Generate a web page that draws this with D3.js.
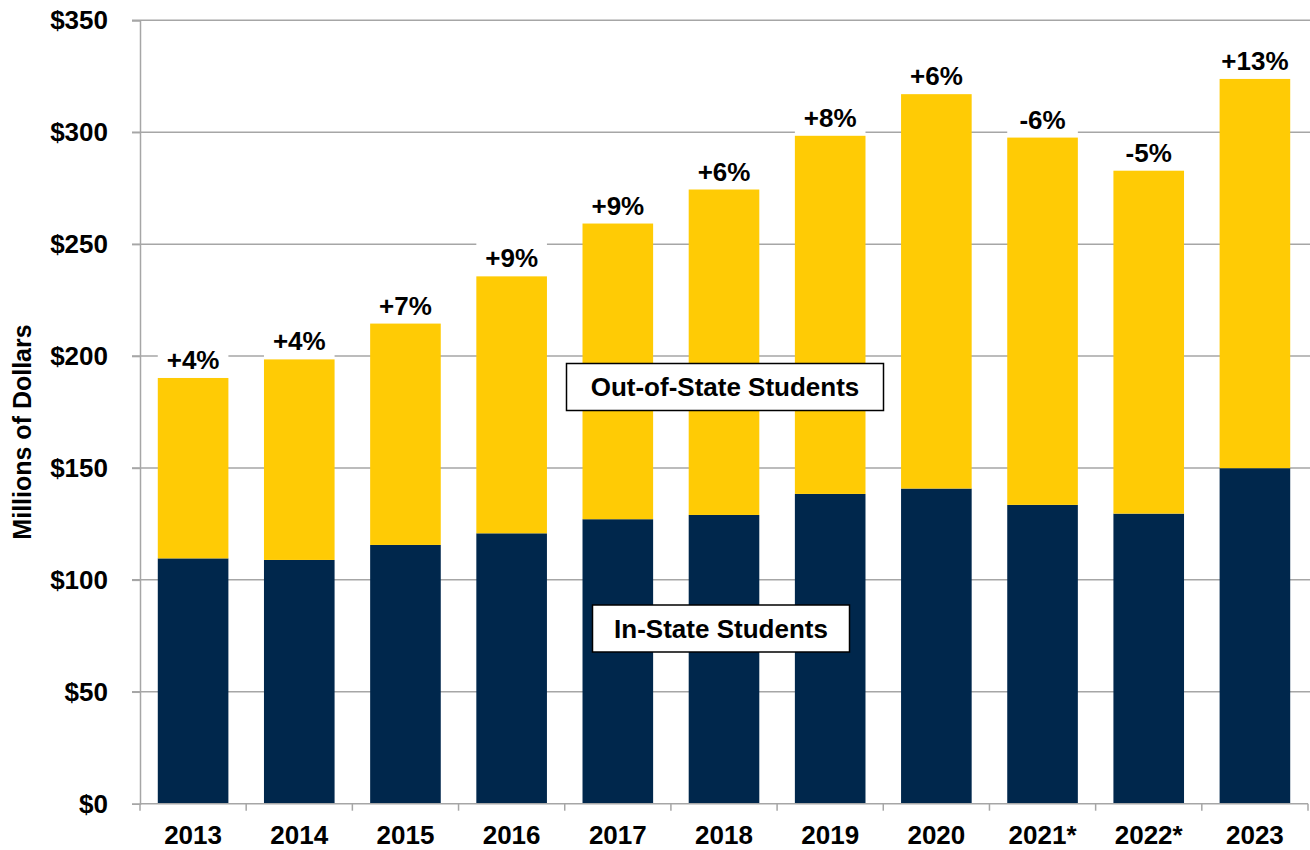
<!DOCTYPE html>
<html>
<head>
<meta charset="utf-8">
<script src="https://cdn.jsdelivr.net/npm/d3@7"></script>
<style>
  html, body { margin: 0; padding: 0; background: #fff; }
  svg { display: block; font-family: "Liberation Sans", Arial, sans-serif; }
</style>
</head>
<body>
<svg id="chart" width="1310" height="850"></svg>
<script>
// Tuition revenue by year, millions of dollars
const years = ["2013", "2014", "2015", "2016", "2017", "2018", "2019", "2020", "2021*", "2022*", "2023"];
const inState = [109.6, 108.9, 115.6, 120.8, 127.1, 129.0, 138.4, 140.8, 133.5, 129.6, 149.9];
const outOfState = [80.6, 89.6, 98.9, 114.8, 132.1, 145.4, 160.0, 176.2, 164.1, 153.2, 173.9];
const changeLabels = ["+4%", "+4%", "+7%", "+9%", "+9%", "+6%", "+8%", "+6%", "-6%", "-5%", "+13%"];
const yTicks = [0, 50, 100, 150, 200, 250, 300, 350];

const colors = { inState: "#00274C", outOfState: "#FFCB05", grid: "#a6a6a6" };

const svg = d3.select("#chart");
const plotLeft = 140, plotRight = 1308, plotTop = 20.3, plotBottom = 803.7;

const x = d3.scaleBand().domain(years).range([plotLeft, plotRight])
  .paddingInner(0.335).paddingOuter(0.1675);
const y = d3.scaleLinear().domain([0, 350]).range([plotBottom, plotTop]);

// Horizontal gridlines with outward tick stubs
svg.append("g").selectAll("line").data(yTicks.filter(d => d > 0)).join("line")
  .attr("x1", plotLeft - 8).attr("x2", 1310)
  .attr("y1", d => y(d)).attr("y2", d => y(d))
  .attr("stroke", colors.grid).attr("stroke-width", 1.5);

// Y axis
const yAxis = svg.append("g").attr("transform", `translate(${plotLeft},0)`)
  .call(d3.axisLeft(y).tickValues(yTicks).tickSize(8).tickPadding(24).tickFormat(d => "$" + d));
yAxis.select(".domain").attr("stroke", colors.grid).attr("stroke-width", 1.5);
yAxis.selectAll(".tick line").attr("stroke", colors.grid).attr("stroke-width", 1.5);
yAxis.selectAll(".tick text").attr("font-size", 26).attr("font-weight", "bold")
  .attr("fill", "#000").attr("font-family", "Liberation Sans, Arial, sans-serif");

// Stacked bars
const rows = years.map((yr, i) => ({ yr, a: inState[i], b: outOfState[i], label: changeLabels[i] }));
const stack = d3.stack().keys(["a", "b"])(rows);
const fills = [colors.inState, colors.outOfState];

svg.append("g").selectAll("g").data(stack).join("g")
  .attr("fill", (d, i) => fills[i])
  .selectAll("rect").data(d => d).join("rect")
  .attr("x", d => x(d.data.yr))
  .attr("width", x.bandwidth())
  .attr("y", d => y(d[1]))
  .attr("height", d => y(d[0]) - y(d[1]));

// X axis with boundary ticks
const xAxisG = svg.append("g").attr("transform", `translate(0,${plotBottom})`);
xAxisG.append("line").attr("x1", plotLeft).attr("x2", plotRight).attr("y1", 0).attr("y2", 0)
  .attr("stroke", colors.grid).attr("stroke-width", 1.5);
const bounds = d3.range(years.length + 1).map(i => plotLeft + i * x.step());
xAxisG.selectAll("line.tk").data(bounds).join("line").attr("class", "tk")
  .attr("x1", d => d).attr("x2", d => d).attr("y1", 0).attr("y2", 7)
  .attr("stroke", colors.grid).attr("stroke-width", 1.5);
xAxisG.selectAll("text").data(years).join("text")
  .attr("x", d => x(d) + x.bandwidth() / 2).attr("y", 31)
  .attr("text-anchor", "middle").attr("dominant-baseline", "central")
  .attr("font-size", 26).attr("font-weight", "bold").attr("fill", "#000")
  .text(d => d);

// Year-over-year change labels with white backing
const totals = rows.map(r => r.a + r.b);
const lab = svg.append("g").selectAll("g").data(rows).join("g")
  .attr("transform", (d, i) => `translate(${x(d.yr) + x.bandwidth() / 2},${y(totals[i]) - 18})`);
lab.append("rect").attr("x", -x.bandwidth() / 2).attr("y", -18)
  .attr("width", x.bandwidth()).attr("height", 35).attr("fill", "#fff");
lab.append("text").attr("text-anchor", "middle").attr("dominant-baseline", "central")
  .attr("font-size", 26).attr("font-weight", "bold").attr("fill", "#000")
  .text(d => d.label);

// Series callouts
function callout(cx, cy, w, h, txt) {
  const g = svg.append("g").attr("transform", `translate(${cx},${cy})`);
  g.append("rect").attr("x", -w / 2).attr("y", -h / 2).attr("width", w).attr("height", h)
    .attr("fill", "#fff").attr("stroke", "#000").attr("stroke-width", 1.5);
  g.append("text").attr("text-anchor", "middle").attr("dominant-baseline", "central")
    .attr("font-size", 26).attr("font-weight", "bold").attr("fill", "#000").text(txt);
}
callout(725, 387, 317, 47, "Out-of-State Students");
callout(721, 628.5, 257, 47, "In-State Students");

// Y axis title
svg.append("text")
  .attr("transform", "translate(22,432) rotate(-90)")
  .attr("text-anchor", "middle").attr("dominant-baseline", "central")
  .attr("font-size", 25).attr("font-weight", "bold").attr("fill", "#000")
  .text("Millions of Dollars");
</script>
</body>
</html>
